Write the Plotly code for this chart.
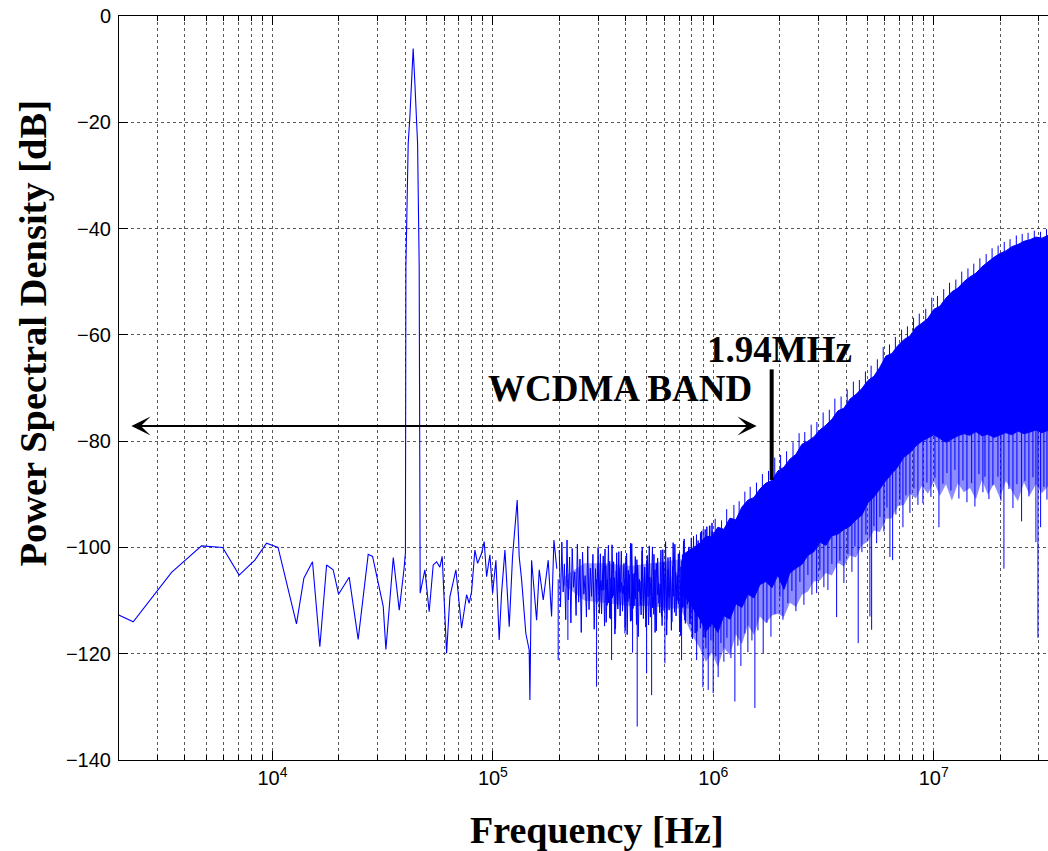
import numpy as np
import plotly.graph_objects as go

# ---------------- data ----------------
# low-frequency part of the PSD (single visible line, incl. the tone at ~43 kHz)
low_freq = [2000, 2334, 3484, 4765, 5940, 7060, 8318, 9400, 10600, 12850,
            13880, 15190, 16400, 17600, 18850, 19940, 22280, 24480, 27180, 28450,
            31800, 32700, 35320, 37600, 39480, 40100, 40300, 40860, 41280, 42020,
            42770, 43480, 44260, 45060, 45530, 46300, 46780, 49140, 51400, 53600,
            55540, 57480, 58880, 61650, 63800, 67940, 72110, 75970, 78050, 80060,
            82850, 85230, 88860, 91310, 93630, 96920, 99690, 103200, 106800, 109500,
            113400, 118600, 122800, 128900, 131600, 134990, 141100, 146100, 147200, 149800,
            157900, 162300, 169200, 178200, 184600, 189200, 195000]
low_db = [-112.7, -114.0, -104.7, -99.7, -100.0, -105.2, -102.4, -99.2, -100.0, -114.4,
          -105.8, -102.7, -118.7, -103.3, -104.2, -108.8, -105.6, -117.3, -101.3, -101.7,
          -111.1, -119.2, -101.9, -111.8, -104.2, -101.0, -47.2, -34.6, -24.0, -18.9,
          -12.6, -6.1, -12.6, -18.9, -24.0, -47.2, -108.6, -104.2, -112.1, -103.3,
          -102.7, -103.7, -101.7, -119.9, -109.3, -104.2, -115.2, -108.9, -110.5, -108.3,
          -100.5, -103.0, -101.1, -98.9, -105.5, -101.4, -108.6, -102.4, -117.4, -108.6,
          -100.5, -114.9, -101.7, -91.1, -101.7, -106.1, -116.2, -119.3, -128.7, -102.4,
          -113.7, -104.2, -109.9, -102.4, -113.0, -98.6, -104.0]

# mid band (200 kHz .. 1 MHz): dense noisy line, values read as zig-zags
mid_freq_start = 2.0e5
mid_freq_stop = 1.0e6
mid_db = [-100.5, -111.2, -99.0, -108.4, -103.1, -113.6, -98.6, -109.9, -101.8, -114.2,
          -100.2, -107.5, -104.6, -112.8, -99.4, -110.3, -102.2, -116.0, -100.9, -108.8,
          -105.3, -113.1, -99.8, -111.7, -103.9, -109.2, -101.3, -115.4, -104.0, -110.6,
          -100.0, -112.4, -106.2, -108.1, -101.6, -114.8, -103.4, -110.9, -99.6, -113.3,
          -105.8, -109.5, -102.7, -116.3, -104.4, -111.1, -100.8, -112.9, -106.6, -108.7,
          -103.0, -115.1, -101.1, -110.2, -105.1, -113.9, -99.3, -111.5, -104.8, -109.7,
          -102.3, -116.8, -106.0, -110.8, -100.6, -113.4, -103.7, -112.1, -101.5, -114.6,
          -105.6, -109.0, -99.9, -112.6, -104.2, -115.7, -102.0, -110.5, -106.9, -113.0,
          -100.4, -111.9, -103.2, -116.5, -101.9, -109.4, -105.4, -114.0, -99.1, -112.2,
          -104.7, -110.0, -101.2, -115.9, -103.6, -111.3, -98.8, -113.7, -102.9, -110.7,
          -100.1, -114.4, -98.2, -111.8, -101.4, -116.1, -97.6, -112.5, -99.7, -115.2,
          -96.9, -110.4, -98.5, -117.0, -96.1, -113.2, -97.8, -114.9, -95.4, -112.0]
mid2_freq_start = 3.0e5
mid2_freq_stop = 1.0e6
mid2_db = [-103.5, -109.8, -101.2, -112.5, -104.9, -108.0, -100.3, -114.1, -106.1, -110.4,
           -102.6, -113.5, -99.5, -109.1, -105.7, -115.3, -101.0, -111.6, -103.8, -108.5,
           -100.7, -112.0, -107.2, -110.1, -102.1, -116.4, -104.3, -109.6, -99.2, -113.8,
           -105.0, -111.0, -101.7, -114.5, -103.3, -108.3, -106.4, -112.7, -100.0, -110.9,
           -104.5, -115.0, -102.4, -109.3, -99.7, -113.1, -105.9, -111.4, -101.3, -116.0,
           -103.0, -108.9, -106.7, -112.3, -100.5, -114.7, -102.8, -110.0, -98.9, -113.6,
           -104.1, -111.8, -101.8, -115.6, -103.5, -109.2, -99.4, -112.9, -105.3, -110.6,
           -100.9, -116.6, -102.5, -111.2, -98.4, -114.3, -104.6, -109.9, -99.9, -113.4,
           -101.6, -117.2, -97.9, -112.1, -100.2, -115.8, -98.7, -110.8, -97.2, -114.0,
           -99.3, -116.9, -96.6, -112.8, -98.1, -115.4, -95.9, -113.9, -97.0, -117.5]
# dense core of the mid band (where the lines overlap)
core_freq = [2.1e5, 2.6e5, 3.3e5, 4.2e5, 5.2e5, 6.4e5, 7.8e5, 9.0e5]
core_upper = [-105.5, -103.0, -103.0, -103.5, -103.0, -102.5, -102.0, -101.0]
core_lower = [-107.0, -110.0, -110.5, -111.0, -111.0, -111.5, -111.5, -112.5]

# high band (> ~0.7 MHz): solid band, upper and lower envelope, and fringe
band_freq = [7.2e5, 8.0e5,
             8.70e5, 9.26e5, 9.85e5, 1.049e6, 1.117e6, 1.189e6, 1.266e6, 1.348e6, 1.435e6, 1.529e6,
             1.627e6, 1.732e6, 1.845e6, 1.964e6, 2.091e6, 2.226e6, 2.370e6, 2.523e6, 2.687e6, 2.860e6,
             3.045e6, 3.243e6, 3.452e6, 3.676e6, 3.913e6, 4.167e6, 4.436e6, 4.723e6, 5.028e6, 5.355e6,
             5.701e6, 6.069e6, 6.462e6, 6.880e6, 7.326e6, 7.799e6, 8.304e6, 8.840e6, 9.412e6, 1.002e7,
             1.067e7, 1.136e7, 1.209e7, 1.288e7, 1.371e7, 1.460e7, 1.554e7, 1.655e7, 1.762e7, 1.876e7,
             1.997e7, 2.126e7, 2.264e7, 2.410e7, 2.566e7, 2.732e7, 2.909e7, 3.097e7, 3.297e7, 3.45e7]
band_upper = [-101.5, -100.3, -99.2, -97.9, -98.0, -96.2, -96.6, -94.5, -94.8, -92.4,
              -91.1, -90.6, -89.0, -87.9, -87.4, -85.6, -84.9, -83.4, -82.5, -80.6,
              -80.0, -79.2, -77.9, -77.0, -75.9, -74.3, -73.8, -72.1, -71.2, -70.1,
              -68.6, -67.8, -66.1, -64.0, -63.5, -62.0, -60.9, -60.2, -58.6, -57.8,
              -56.9, -55.2, -54.6, -53.1, -51.9, -51.2, -50.0, -49.1, -48.4, -47.2,
              -46.3, -45.4, -44.7, -44.2, -43.4, -43.0, -42.4, -42.1, -41.6, -41.8,
              -41.3, -41.0]
band_lower = [-108.5, -111.0,
              -113.5, -115.8, -114.2, -116.0, -112.8, -113.5, -110.6, -111.3, -108.8, -109.5,
              -107.0, -106.4, -107.6, -105.2, -107.9, -104.8, -103.9, -103.2, -101.5, -100.8,
              -99.0, -99.6, -97.8, -97.5, -96.6, -96.0, -94.8, -93.9, -91.6, -90.5,
              -89.0, -87.4, -86.1, -84.8, -83.0, -82.2, -80.9, -80.0, -79.4, -78.8,
              -79.5, -80.2, -79.6, -79.0, -78.6, -78.9, -78.2, -79.0, -78.7, -79.3,
              -78.9, -78.4, -78.8, -78.1, -78.6, -78.3, -77.9, -78.4, -78.0, -78.0]
fringe_lower = [-112.0, -116.5, -119.0, -121.5, -119.8, -122.5, -118.9, -120.3, -116.4, -118.2,
                -114.6, -116.5, -113.0, -114.2, -112.8, -112.5, -113.1, -110.4, -111.2, -108.9,
                -108.3, -106.4, -106.2, -104.8, -105.3, -102.9, -103.6, -101.5, -101.9, -99.6,
                -98.9, -96.8, -97.1, -94.6, -94.5, -92.2, -92.0, -89.9, -90.8, -88.4,
                -89.9, -87.6, -90.3, -88.1, -91.2, -87.9, -89.6, -88.8, -91.0, -87.3,
                -90.1, -88.0, -90.7, -87.5, -89.4, -91.3, -87.8, -90.2, -88.1, -89.8,
                -88.5, -88.5]

# upward peaks on the top edge of the band (frequency, level)
up_freq = [9.0e5, 9.6e5, 1.02e6, 1.09e6, 1.15e6, 1.24e6, 1.31e6, 1.39e6, 1.47e6, 1.57e6,
           1.67e6, 1.78e6, 1.90e6, 2.02e6, 2.15e6, 2.30e6, 2.45e6, 2.60e6, 2.78e6, 2.95e6,
           3.15e6, 3.36e6, 3.56e6, 3.80e6, 4.05e6, 4.32e6, 4.60e6, 4.90e6, 5.20e6, 5.55e6,
           5.90e6, 6.30e6, 6.70e6, 7.15e6, 7.60e6, 8.10e6, 8.60e6, 9.20e6, 9.80e6, 1.04e7,
           1.11e7, 1.18e7, 1.26e7, 1.34e7, 1.43e7, 1.52e7, 1.62e7, 1.73e7, 1.84e7, 1.96e7,
           2.09e7, 2.22e7, 2.37e7, 2.52e7, 2.68e7, 2.86e7, 3.05e7, 3.25e7]
up_db = [-96.5, -96.0, -94.6, -94.9, -92.8, -92.0, -91.3, -89.5, -88.6, -87.8,
         -86.2, -85.6, -83.1, -82.6, -81.9, -80.2, -78.5, -78.3, -76.9, -76.4,
         -74.6, -74.1, -72.0, -71.6, -70.3, -68.8, -68.5, -66.9, -65.8, -64.6,
         -62.3, -61.8, -60.4, -59.0, -58.4, -56.8, -56.0, -55.1, -53.0, -52.7,
         -51.4, -50.2, -49.6, -48.1, -47.5, -46.6, -45.6, -44.8, -43.7, -43.2,
         -42.5, -42.0, -41.3, -41.0, -40.8, -40.4, -40.6, -40.1]

# downward spikes below the noise (frequency, depth)
spike_freq = [1.978e5, 2.189e5, 2.954e5, 3.455e5, 3.971e5, 4.303e5, 4.515e5, 4.982e5, 5.250e5, 6.031e5,
              7.180e5, 8.401e5, 8.971e5, 9.256e5, 9.482e5, 9.752e5, 9.989e5, 1.027e6, 1.052e6, 1.083e6,
              1.117e6, 1.153e6, 1.202e6, 1.253e6, 1.293e6, 1.334e6, 1.391e6, 1.435e6, 1.497e6, 1.544e6,
              1.594e6, 1.684e6, 1.751e6, 1.826e6, 1.904e6, 2.006e6, 2.070e6, 2.180e6, 2.273e6, 2.371e6,
              2.471e6, 2.577e6, 2.687e6, 2.802e6, 2.943e6, 3.045e6, 3.175e6, 3.311e6, 3.452e6, 3.626e6,
              3.753e6, 3.913e6, 4.080e6, 4.255e6, 4.390e6, 4.543e6, 4.723e6, 4.925e6, 5.135e6, 5.228e6,
              5.355e6, 5.507e6, 5.701e6, 5.943e6, 6.134e6, 6.329e6, 6.510e6, 6.738e6, 7.026e6, 7.250e6,
              7.481e6, 7.799e6, 8.133e6, 8.480e6, 8.933e6, 9.314e6, 9.712e6, 1.013e7, 1.056e7, 1.101e7,
              1.148e7, 1.197e7, 1.248e7, 1.301e7, 1.357e7, 1.415e7, 1.486e7, 1.538e7, 1.604e7, 1.672e7,
              1.708e7, 1.780e7, 1.856e7, 1.956e7, 2.018e7, 2.082e7, 2.194e7, 2.288e7, 2.385e7, 2.504e7,
              2.593e7, 2.704e7, 2.819e7, 2.909e7, 2.971e7, 3.055e7, 3.162e7, 3.264e7]
spike_db = [-121.2, -117.4, -126.2, -121.2, -116.2, -119.8, -133.7, -123.7, -127.8, -121.8,
            -121.2, -121.2, -126.3, -119.0, -126.8, -117.5, -127.4, -120.5, -124.4, -118.0,
            -121.5, -117.0, -120.8, -129.0, -118.5, -122.3, -116.2, -119.7, -117.5, -130.2,
            -115.6, -119.9, -114.2, -116.8, -112.5, -109.3, -113.6, -110.5, -108.2, -112.0,
            -106.5, -110.8, -105.2, -108.9, -108.6, -104.3, -107.5, -108.0, -103.1, -113.1,
            -102.5, -106.7, -101.3, -104.6, -99.8, -118.0, -100.9, -97.6, -113.0, -115.5,
            -96.0, -99.2, -94.3, -97.0, -92.5, -101.8, -102.4, -93.8, -91.0, -96.2,
            -90.2, -93.5, -88.9, -92.0, -91.7, -87.8, -90.5, -86.9, -96.2, -88.0,
            -86.0, -89.3, -85.4, -90.8, -87.4, -91.5, -87.9, -92.3, -86.2, -89.6,
            -86.7, -90.9, -88.3, -86.7, -91.2, -104.0, -89.0, -92.6, -88.1, -95.1,
            -87.5, -90.4, -86.8, -99.0, -117.0, -96.2, -88.6, -91.0]

# annotation values
bar_freq = 1.84e6
bar_db = [-66.5, -87.3]
arrow_freq = [2255, 1.572e6]
arrow_db = -77.15

x_range_hz = [2012, 3.30e7]
y_ticks = [-140, -120, -100, -80, -60, -40, -20, 0]
x_major = [1e4, 1e5, 1e6, 1e7]
x_major_text = ["10<sup>4</sup>", "10<sup>5</sup>", "10<sup>6</sup>", "10<sup>7</sup>"]
x_minor = [m * 10 ** e for e in range(3, 8) for m in range(2, 10)]

BLUE = "rgb(0,0,255)"

# ---------------- figure ----------------
fig = go.Figure()

# dense core of the mid band
fig.add_trace(go.Scatter(x=list(core_freq) + list(core_freq[::-1]),
                         y=list(core_upper) + list(core_lower[::-1]),
                         mode="lines", fill="toself", fillcolor="rgba(0,0,255,0.35)",
                         line=dict(width=0), hoverinfo="skip"))

mid_freq = np.geomspace(mid_freq_start, mid_freq_stop, len(mid_db))
fig.add_trace(go.Scatter(x=mid_freq, y=mid_db, mode="lines",
                         line=dict(color=BLUE, width=1), hoverinfo="skip"))
mid2_freq = np.geomspace(mid2_freq_start, mid2_freq_stop, len(mid2_db))
fig.add_trace(go.Scatter(x=mid2_freq, y=mid2_db, mode="lines",
                         line=dict(color=BLUE, width=1), hoverinfo="skip"))
fig.add_trace(go.Scatter(x=low_freq, y=low_db, mode="lines",
                         line=dict(color=BLUE, width=1.1), hoverinfo="skip"))

# fringe under the solid band
fig.add_trace(go.Scatter(x=list(band_freq) + list(band_freq[::-1]),
                         y=list(band_lower) + list(fringe_lower[::-1]),
                         mode="lines", fill="toself", fillcolor="rgba(0,0,255,0.45)",
                         line=dict(width=0), hoverinfo="skip"))
# solid band
fig.add_trace(go.Scatter(x=list(band_freq) + list(band_freq[::-1]),
                         y=list(band_upper) + list(band_lower[::-1]),
                         mode="lines", fill="toself", fillcolor=BLUE,
                         line=dict(color=BLUE, width=1), hoverinfo="skip"))

lb = np.log10(band_freq)
sx, sy = [], []
for f, d in zip(spike_freq, spike_db):
    if f >= band_freq[0]:
        top = float(np.interp(np.log10(f), lb, band_lower)) + 2.0
    else:
        top = -106.0
    sx += [f, f, None]
    sy += [top, d, None]
for f, d in zip(up_freq, up_db):
    base = float(np.interp(np.log10(f), lb, band_upper)) - 3.0
    sx += [f, f, None]
    sy += [base, d, None]
fig.add_trace(go.Scatter(x=sx, y=sy, mode="lines",
                         line=dict(color=BLUE, width=1), hoverinfo="skip"))

# 1.94 MHz marker bar
fig.add_trace(go.Scatter(x=[bar_freq, bar_freq], y=bar_db, mode="lines",
                         line=dict(color="black", width=4), hoverinfo="skip"))

# double arrow for the WCDMA band
fig.add_annotation(x=np.log10(arrow_freq[1]), y=arrow_db,
                   ax=np.log10(arrow_freq[0]), ay=arrow_db,
                   xref="x", yref="y", axref="x", ayref="y",
                   text="", showarrow=True, arrowside="end+start",
                   arrowhead=3, arrowsize=1.6, arrowwidth=2, arrowcolor="black",
                   standoff=0, startstandoff=0)

serif = "Liberation Serif, Times New Roman, serif"
common = dict(xref="paper", yref="paper", showarrow=False,
              xanchor="center", yanchor="middle")
fig.add_annotation(text="<b>WCDMA BAND</b>", x=0.5388, y=0.4987,
                   font=dict(family=serif, size=37, color="black"), **common)
fig.add_annotation(text="<b>1.94MHz</b>", x=0.7115, y=0.5524,
                   font=dict(family=serif, size=37, color="black"), **common)
fig.add_annotation(text="<b>Frequency [Hz]</b>", x=0.5145, y=-0.0935,
                   font=dict(family=serif, size=38, color="black"), **common)
fig.add_annotation(text="<b>Power Spectral Density [dB]</b>", x=-0.0926, y=0.5745,
                   textangle=-90, font=dict(family=serif, size=38.5, color="black"), **common)

grid_col = "rgba(60,60,60,0.85)"
tick_font = dict(family="Liberation Sans, Arial, sans-serif", size=20, color="black")
fig.update_xaxes(type="log", range=[np.log10(x_range_hz[0]), np.log10(x_range_hz[1])],
                 tickvals=x_major, ticktext=x_major_text,
                 ticks="inside", ticklen=9, tickcolor="black", tickwidth=1,
                 showline=True, linecolor="black", linewidth=1, mirror="ticks",
                 showgrid=True, gridcolor=grid_col, griddash="dot", gridwidth=1,
                 minor=dict(tickvals=x_minor, ticks="inside", ticklen=5, tickcolor="black",
                            showgrid=True, gridcolor=grid_col, griddash="dot", gridwidth=1),
                 tickfont=tick_font, zeroline=False)
fig.update_yaxes(range=[-140, 0], tickvals=y_ticks,
                 ticks="inside", ticklen=9, tickcolor="black", tickwidth=1,
                 showline=True, linecolor="black", linewidth=1, mirror=False,
                 showgrid=True, gridcolor=grid_col, griddash="dot", gridwidth=1,
                 tickfont=tick_font, zeroline=False, ticklabelstandoff=3)

fig.update_layout(width=1048, height=851, showlegend=False,
                  margin=dict(l=119, r=0, t=16, b=91),
                  plot_bgcolor="white", paper_bgcolor="white")

fig.write_html("out.html", config={"displayModeBar": False},
               post_script="document.body.style.margin='0px';document.body.style.padding='0px';")
